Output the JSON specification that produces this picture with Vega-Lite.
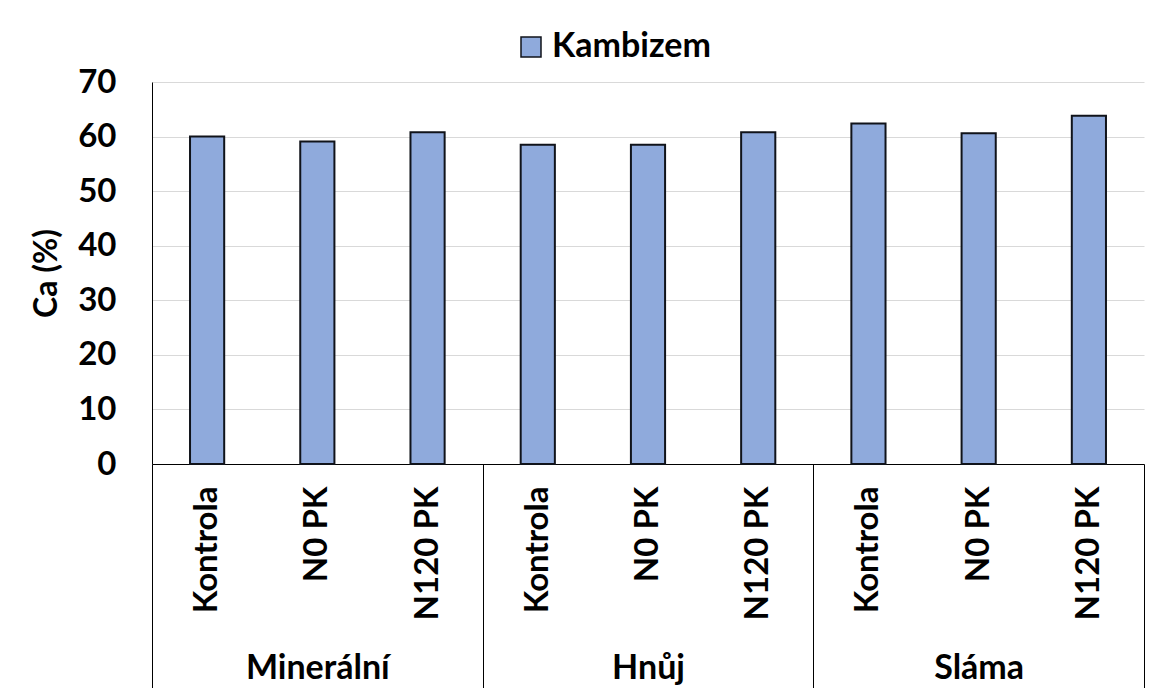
{
  "$schema": "https://vega.github.io/schema/vega-lite/v6.json",
  "width": 992,
  "height": 382,
  "autosize": {"type": "none"},
  "padding": {"left": 152, "top": 82, "right": 10, "bottom": 224},
  "background": "white",
  "config": {"view": {"stroke": null}, "font": "Lato"},
  "data": {
    "values": [
      {"skupina": "Minerální", "varianta": "Kontrola", "kategorie": "Minerální|Kontrola", "pudni_typ": "Kambizem", "ca": 60.0},
      {"skupina": "Minerální", "varianta": "N0 PK", "kategorie": "Minerální|N0 PK", "pudni_typ": "Kambizem", "ca": 59.1},
      {"skupina": "Minerální", "varianta": "N120 PK", "kategorie": "Minerální|N120 PK", "pudni_typ": "Kambizem", "ca": 60.8},
      {"skupina": "Hnůj", "varianta": "Kontrola", "kategorie": "Hnůj|Kontrola", "pudni_typ": "Kambizem", "ca": 58.5},
      {"skupina": "Hnůj", "varianta": "N0 PK", "kategorie": "Hnůj|N0 PK", "pudni_typ": "Kambizem", "ca": 58.5},
      {"skupina": "Hnůj", "varianta": "N120 PK", "kategorie": "Hnůj|N120 PK", "pudni_typ": "Kambizem", "ca": 60.8},
      {"skupina": "Sláma", "varianta": "Kontrola", "kategorie": "Sláma|Kontrola", "pudni_typ": "Kambizem", "ca": 62.4},
      {"skupina": "Sláma", "varianta": "N0 PK", "kategorie": "Sláma|N0 PK", "pudni_typ": "Kambizem", "ca": 60.6},
      {"skupina": "Sláma", "varianta": "N120 PK", "kategorie": "Sláma|N120 PK", "pudni_typ": "Kambizem", "ca": 63.8}
    ]
  },
  "layer": [
    {
      "mark": {"type": "bar", "width": {"band": 0.31}, "stroke": "#10131a", "strokeWidth": 2},
      "encoding": {
        "x": {
          "field": "kategorie",
          "type": "nominal",
          "sort": null,
          "scale": {"paddingInner": 0, "paddingOuter": 0},
          "axis": {
            "orient": "bottom",
            "title": null,
            "labelExpr": "split(datum.value, '|')[1]",
            "labelAngle": 270,
            "labelPadding": 22,
            "labelFont": "Lato",
            "labelFontWeight": "bold",
            "labelFontSize": 33,
            "labelColor": "black",
            "labelLimit": 300,
            "ticks": false,
            "grid": false,
            "domainColor": "black",
            "domainWidth": 1
          }
        },
        "y": {
          "field": "ca",
          "type": "quantitative",
          "scale": {"domain": [0, 70], "nice": false},
          "axis": {
            "title": "Ca (%)",
            "values": [0, 10, 20, 30, 40, 50, 60, 70],
            "ticks": false,
            "labelPadding": 36,
            "labelFont": "Lato",
            "labelFontWeight": "bold",
            "labelFontSize": 33,
            "labelColor": "black",
            "titleFont": "Lato",
            "titleFontWeight": "bold",
            "titleFontSize": 32,
            "titleColor": "black",
            "titlePadding": 14,
            "domainColor": "black",
            "domainWidth": 1,
            "gridColor": "#d9d9d9",
            "gridWidth": 1
          }
        },
        "color": {
          "field": "pudni_typ",
          "type": "nominal",
          "scale": {"range": ["#8faadc"]},
          "legend": {
            "orient": "none",
            "legendX": 362,
            "legendY": -52,
            "title": null,
            "symbolType": "square",
            "symbolSize": 400,
            "symbolStrokeColor": "#10131a",
            "symbolStrokeWidth": 1.5,
            "labelFont": "Lato",
            "labelFontSize": 34,
            "labelFontWeight": "bold",
            "labelColor": "black"
          }
        }
      }
    },
    {
      "mark": {"type": "rule", "strokeOpacity": 0},
      "encoding": {
        "x": {
          "field": "skupina",
          "type": "nominal",
          "sort": null,
          "scale": {"paddingInner": 0, "paddingOuter": 0},
          "axis": {
            "orient": "bottom",
            "title": null,
            "tickBand": "extent",
            "tickSize": 224,
            "tickColor": "black",
            "tickWidth": 1,
            "domain": false,
            "grid": false,
            "labelAngle": 0,
            "labelPadding": -37,
            "labelBaseline": "top",
            "labelFont": "Lato",
            "labelFontWeight": "bold",
            "labelFontSize": 34,
            "labelColor": "black"
          }
        }
      }
    }
  ],
  "resolve": {"scale": {"x": "independent"}}
}
